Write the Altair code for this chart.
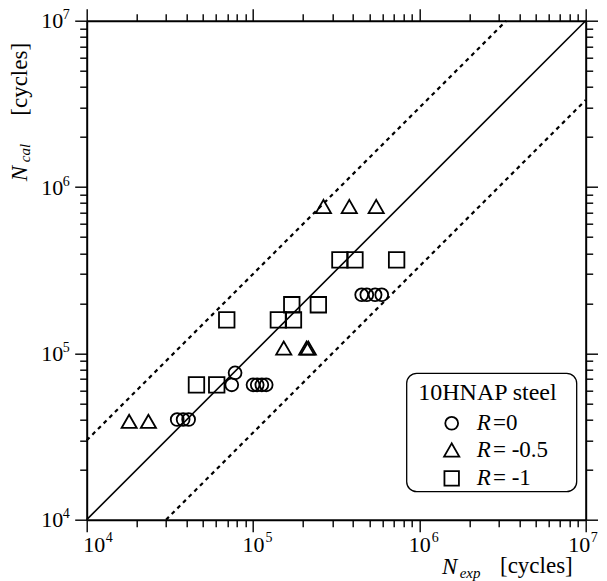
import altair as alt
import pandas as pd

# ---------------- data ----------------
circle_x = [3.5e4, 3.8e4, 4.1e4, 7.45e4, 7.8e4, 1.0e5, 1.06e5, 1.13e5, 1.2e5, 4.5e5, 4.83e5, 5.42e5, 5.94e5]
circle_y = [4.0e4, 4.0e4, 4.0e4, 6.47e4, 7.64e4, 6.47e4, 6.47e4, 6.47e4, 6.47e4, 2.25e5, 2.25e5, 2.25e5, 2.25e5]

tri_x = [1.8e4, 2.35e4, 1.53e5, 2.1e5, 2.15e5, 2.65e5, 3.79e5, 5.5e5]
tri_y = [3.9e4, 3.9e4, 1.077e5, 1.077e5, 1.077e5, 7.64e5, 7.64e5, 7.64e5]

sq_x = [4.57e4, 6.05e4, 6.95e4, 1.42e5, 1.75e5, 1.71e5, 2.47e5, 3.33e5, 4.1e5, 7.3e5]
sq_y = [6.47e4, 6.47e4, 1.59e5, 1.59e5, 1.59e5, 1.96e5, 1.96e5, 3.65e5, 3.65e5, 3.65e5]

solid_x = [1e4, 1e7]
solid_y = [1e4, 1e7]
upper_x = [1e4, 3.333e6]
upper_y = [3e4, 1e7]
lower_x = [3e4, 1e7]
lower_y = [1e4, 3.333e6]

major_ticks = [10000, 100000, 1000000, 10000000]
tick_base = "10"
tick_exponents = ["4", "5", "6", "7"]
minor_ticks = [20000, 30000, 40000, 50000, 60000, 70000, 80000, 90000,
               200000, 300000, 400000, 500000, 600000, 700000, 800000, 900000,
               2000000, 3000000, 4000000, 5000000, 6000000, 7000000, 8000000, 9000000]

legend_title = "10HNAP  steel"
legend_values = ["=0", "= -0.5", "= -1"]

FONT = "Liberation Serif"


def ax(orient, values, size, labels, domain, **extra):
    opts = dict(
        orient=orient, values=values, tickSize=size, labels=labels, domain=domain,
        grid=False, title=None, tickColor="black", tickWidth=1.4,
        domainColor="black", domainWidth=2, labelFont=FONT, labelFontSize=22,
        labelColor="black", labelFlush=False, labelOverlap=False,
        labelExpr=f"'{tick_base}'", zindex=1,
    )
    opts.update(extra)
    return alt.Axis(**opts)


sc = alt.Scale(type="log", domain=[1e4, 1e7], nice=False)


def line_layer(xs, ys, dash, xaxis, yaxis, width):
    df = pd.DataFrame({"x": xs, "y": ys})
    kw = dict(color="black", strokeWidth=width)
    if dash:
        kw["strokeDash"] = dash
    return alt.Chart(df).mark_line(**kw).encode(
        x=alt.X("x:Q", scale=sc, axis=xaxis),
        y=alt.Y("y:Q", scale=sc, axis=yaxis),
    )


def point_layer(xs, ys, shape, size, xaxis=None, yaxis=None):
    df = pd.DataFrame({"x": xs, "y": ys})
    return alt.Chart(df).mark_point(
        shape=shape, filled=False, size=size, color="black", strokeWidth=1.8, opacity=1
    ).encode(
        x=alt.X("x:Q", scale=sc, axis=xaxis),
        y=alt.Y("y:Q", scale=sc, axis=yaxis),
    )


def txt(s, x, y, size, style="normal", angle=0, align="left"):
    kw = dict(font=FONT, fontSize=size, fontStyle=style, align=align,
              baseline="middle", color="black")
    if angle:
        kw["angle"] = angle
    return alt.Chart(pd.DataFrame({"t": [s]})).mark_text(**kw).encode(
        x=alt.value(x), y=alt.value(y), text="t:N"
    )


solid = line_layer(solid_x, solid_y, None,
                   ax("bottom", major_ticks, 12, True, True, labelPadding=3,
                      labelFlush=True, labelFlushOffset=4),
                   ax("left", major_ticks, 12, True, True, labelPadding=12), 1.6)
upper = line_layer(upper_x, upper_y, [4, 4],
                   ax("bottom", minor_ticks, 7, False, False),
                   ax("left", minor_ticks, 7, False, False), 2.2)
lower = line_layer(lower_x, lower_y, [4, 4],
                   ax("top", major_ticks, 12, False, True),
                   ax("right", major_ticks, 12, False, True), 2.2)

circles = point_layer(circle_x, circle_y, "circle", 165,
                      ax("top", minor_ticks, 7, False, False),
                      ax("right", minor_ticks, 7, False, False))
triangles = point_layer(tri_x, tri_y, "triangle-up", 230)
squares = point_layer(sq_x, sq_y, "square", 240)

# exponents of the tick labels, placed through the scales
exp_df = pd.DataFrame({"v": major_ticks, "e": tick_exponents})


def x_exp_layer(rows, dx):
    return alt.Chart(exp_df.iloc[rows]).mark_text(
        font=FONT, fontSize=14, color="black", dx=dx, align="center", baseline="middle"
    ).encode(x=alt.X("v:Q", scale=sc, axis=None), y=alt.value(517.5), text="e:N")


x_exp_first = x_exp_layer(slice(0, 1), 22.5)
x_exp_mid = x_exp_layer(slice(1, 3), 16)
x_exp_last = x_exp_layer(slice(3, 4), 8.5)
y_exp = alt.Chart(exp_df).mark_text(
    font=FONT, fontSize=14, color="black", dy=-5.5, align="center", baseline="middle"
).encode(y=alt.Y("v:Q", scale=sc, axis=None), x=alt.value(-20.5), text="e:N")

# legend box (plot coordinates)
box = alt.Chart(pd.DataFrame({"a": [0]})).mark_rect(
    cornerRadius=10, fill="white", stroke="black", strokeWidth=1.3
).encode(x=alt.value(320), x2=alt.value(490), y=alt.value(352.6), y2=alt.value(471))

row_y = [402.6, 429.3, 457.6]
shapes = ["circle", "triangle-up", "square"]
sizes = [165, 230, 210]
legend_layers = [box, txt(legend_title, 400.8, 372.6, 24, align="center")]
for yy, shp, sz, val in zip(row_y, shapes, sizes, legend_values):
    legend_layers.append(
        alt.Chart(pd.DataFrame({"a": [0]})).mark_point(
            shape=shp, filled=False, size=sz, color="black", strokeWidth=1.8, opacity=1
        ).encode(x=alt.value(365), y=alt.value(yy))
    )
    legend_layers.append(txt("R", 390, yy, 23, style="italic"))
    legend_layers.append(txt(val, 406.3, yy, 23))

titles = [
    txt("N", 355.3, 546.3, 23, style="italic"),
    txt("exp", 373.0, 552.0, 15, style="italic"),
    txt("[cycles]", 413.3, 545.3, 23),
    txt("N", -66.5, 160.5, 23, style="italic", angle=270),
    txt("cal", -62.0, 141.5, 15, style="italic", angle=270),
    txt("[cycles]", -66.2, 95.0, 23, angle=270),
]

chart = alt.layer(
    solid, upper, lower, circles, triangles, squares,
    x_exp_first, x_exp_mid, x_exp_last, y_exp,
    *legend_layers, *titles
).resolve_axis(
    x="independent", y="independent"
).properties(
    width=499, height=499,
    padding={"left": 78.7, "top": 12.7, "right": 12.5, "bottom": 61},
    autosize=alt.AutoSizeParams(type="none"),
    background="white",
).configure_view(stroke=None)

chart.save("out.html", embed_options={"renderer": "svg", "actions": False})
